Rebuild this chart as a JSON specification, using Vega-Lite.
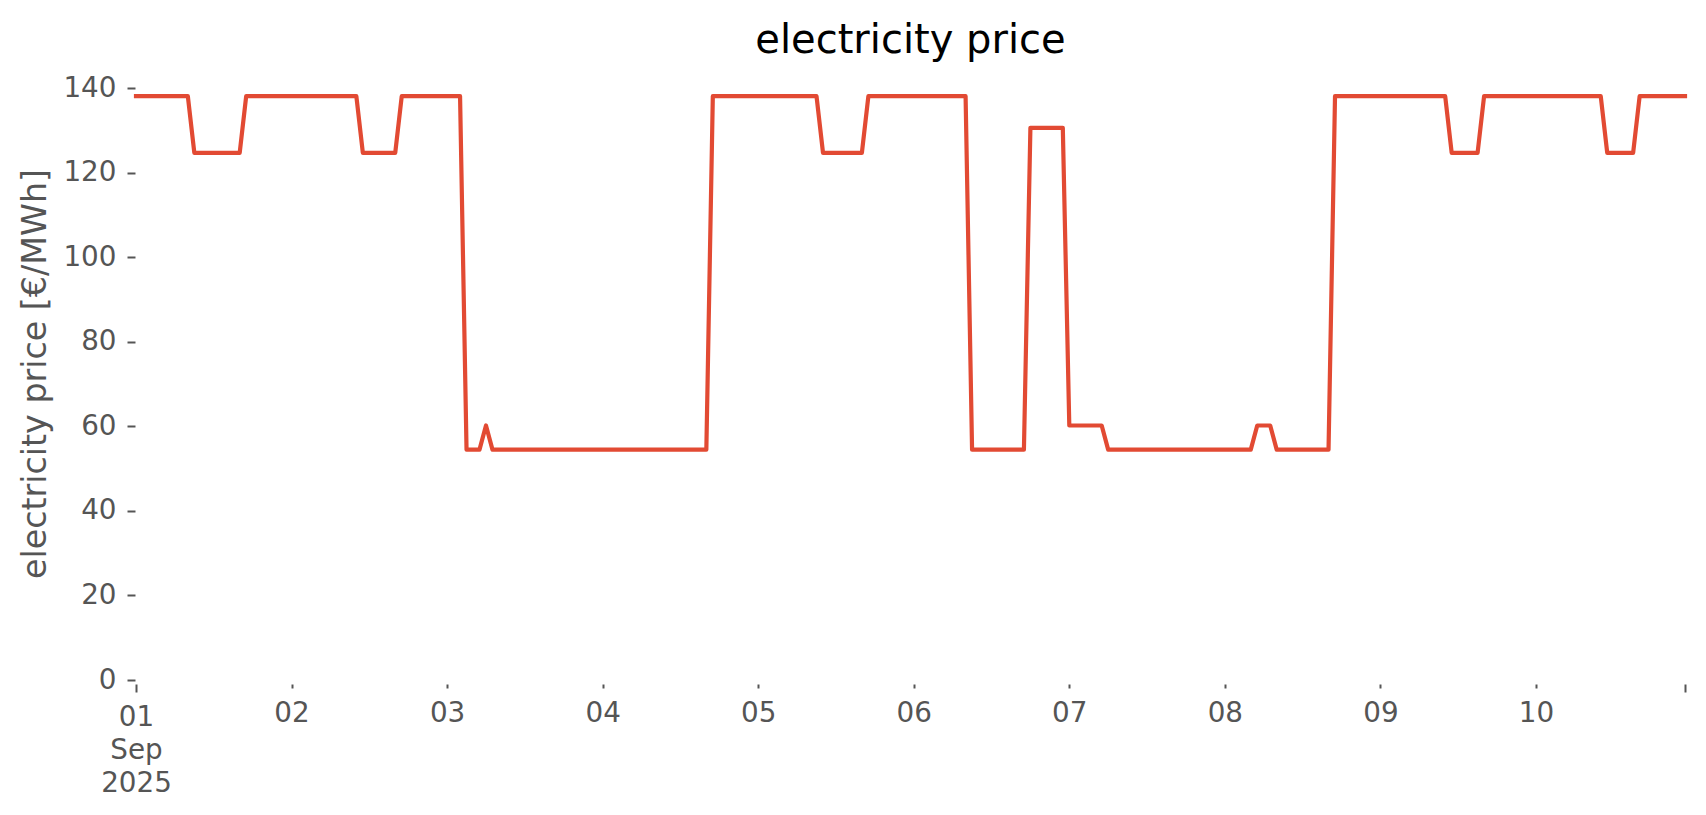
{
  "$schema": "https://vega.github.io/schema/vega-lite/v6.json",
  "width": 1549,
  "height": 613,
  "autosize": {"type": "none"},
  "padding": {"left": 136, "top": 67, "right": 21, "bottom": 135},
  "background": "white",
  "title": {"text": "electricity price", "fontSize": 40, "font": "DejaVu Sans", "fontWeight": "normal", "color": "black", "baseline": "alphabetic", "offset": 16, "dy": 42, "anchor": "middle", "frame": "group"},
  "data": {"values": [
    {"t":"2025-09-01T00:00Z","p":138.1},{"t":"2025-09-01T01:00Z","p":138.1},{"t":"2025-09-01T02:00Z","p":138.1},{"t":"2025-09-01T03:00Z","p":138.1},{"t":"2025-09-01T04:00Z","p":138.1},{"t":"2025-09-01T05:00Z","p":138.1},{"t":"2025-09-01T06:00Z","p":138.1},{"t":"2025-09-01T07:00Z","p":138.1},{"t":"2025-09-01T08:00Z","p":138.1},{"t":"2025-09-01T09:00Z","p":124.7},{"t":"2025-09-01T10:00Z","p":124.7},{"t":"2025-09-01T11:00Z","p":124.7},{"t":"2025-09-01T12:00Z","p":124.7},{"t":"2025-09-01T13:00Z","p":124.7},{"t":"2025-09-01T14:00Z","p":124.7},{"t":"2025-09-01T15:00Z","p":124.7},{"t":"2025-09-01T16:00Z","p":124.7},{"t":"2025-09-01T17:00Z","p":138.1},{"t":"2025-09-01T18:00Z","p":138.1},{"t":"2025-09-01T19:00Z","p":138.1},{"t":"2025-09-01T20:00Z","p":138.1},{"t":"2025-09-01T21:00Z","p":138.1},{"t":"2025-09-01T22:00Z","p":138.1},{"t":"2025-09-01T23:00Z","p":138.1},
    {"t":"2025-09-02T00:00Z","p":138.1},{"t":"2025-09-02T01:00Z","p":138.1},{"t":"2025-09-02T02:00Z","p":138.1},{"t":"2025-09-02T03:00Z","p":138.1},{"t":"2025-09-02T04:00Z","p":138.1},{"t":"2025-09-02T05:00Z","p":138.1},{"t":"2025-09-02T06:00Z","p":138.1},{"t":"2025-09-02T07:00Z","p":138.1},{"t":"2025-09-02T08:00Z","p":138.1},{"t":"2025-09-02T09:00Z","p":138.1},{"t":"2025-09-02T10:00Z","p":138.1},{"t":"2025-09-02T11:00Z","p":124.7},{"t":"2025-09-02T12:00Z","p":124.7},{"t":"2025-09-02T13:00Z","p":124.7},{"t":"2025-09-02T14:00Z","p":124.7},{"t":"2025-09-02T15:00Z","p":124.7},{"t":"2025-09-02T16:00Z","p":124.7},{"t":"2025-09-02T17:00Z","p":138.1},{"t":"2025-09-02T18:00Z","p":138.1},{"t":"2025-09-02T19:00Z","p":138.1},{"t":"2025-09-02T20:00Z","p":138.1},{"t":"2025-09-02T21:00Z","p":138.1},{"t":"2025-09-02T22:00Z","p":138.1},{"t":"2025-09-02T23:00Z","p":138.1},
    {"t":"2025-09-03T00:00Z","p":138.1},{"t":"2025-09-03T01:00Z","p":138.1},{"t":"2025-09-03T02:00Z","p":138.1},{"t":"2025-09-03T03:00Z","p":54.5},{"t":"2025-09-03T04:00Z","p":54.5},{"t":"2025-09-03T05:00Z","p":54.5},{"t":"2025-09-03T06:00Z","p":60.2},{"t":"2025-09-03T07:00Z","p":54.5},{"t":"2025-09-03T08:00Z","p":54.5},{"t":"2025-09-03T09:00Z","p":54.5},{"t":"2025-09-03T10:00Z","p":54.5},{"t":"2025-09-03T11:00Z","p":54.5},{"t":"2025-09-03T12:00Z","p":54.5},{"t":"2025-09-03T13:00Z","p":54.5},{"t":"2025-09-03T14:00Z","p":54.5},{"t":"2025-09-03T15:00Z","p":54.5},{"t":"2025-09-03T16:00Z","p":54.5},{"t":"2025-09-03T17:00Z","p":54.5},{"t":"2025-09-03T18:00Z","p":54.5},{"t":"2025-09-03T19:00Z","p":54.5},{"t":"2025-09-03T20:00Z","p":54.5},{"t":"2025-09-03T21:00Z","p":54.5},{"t":"2025-09-03T22:00Z","p":54.5},{"t":"2025-09-03T23:00Z","p":54.5},
    {"t":"2025-09-04T00:00Z","p":54.5},{"t":"2025-09-04T01:00Z","p":54.5},{"t":"2025-09-04T02:00Z","p":54.5},{"t":"2025-09-04T03:00Z","p":54.5},{"t":"2025-09-04T04:00Z","p":54.5},{"t":"2025-09-04T05:00Z","p":54.5},{"t":"2025-09-04T06:00Z","p":54.5},{"t":"2025-09-04T07:00Z","p":54.5},{"t":"2025-09-04T08:00Z","p":54.5},{"t":"2025-09-04T09:00Z","p":54.5},{"t":"2025-09-04T10:00Z","p":54.5},{"t":"2025-09-04T11:00Z","p":54.5},{"t":"2025-09-04T12:00Z","p":54.5},{"t":"2025-09-04T13:00Z","p":54.5},{"t":"2025-09-04T14:00Z","p":54.5},{"t":"2025-09-04T15:00Z","p":54.5},{"t":"2025-09-04T16:00Z","p":54.5},{"t":"2025-09-04T17:00Z","p":138.1},{"t":"2025-09-04T18:00Z","p":138.1},{"t":"2025-09-04T19:00Z","p":138.1},{"t":"2025-09-04T20:00Z","p":138.1},{"t":"2025-09-04T21:00Z","p":138.1},{"t":"2025-09-04T22:00Z","p":138.1},{"t":"2025-09-04T23:00Z","p":138.1},
    {"t":"2025-09-05T00:00Z","p":138.1},{"t":"2025-09-05T01:00Z","p":138.1},{"t":"2025-09-05T02:00Z","p":138.1},{"t":"2025-09-05T03:00Z","p":138.1},{"t":"2025-09-05T04:00Z","p":138.1},{"t":"2025-09-05T05:00Z","p":138.1},{"t":"2025-09-05T06:00Z","p":138.1},{"t":"2025-09-05T07:00Z","p":138.1},{"t":"2025-09-05T08:00Z","p":138.1},{"t":"2025-09-05T09:00Z","p":138.1},{"t":"2025-09-05T10:00Z","p":124.7},{"t":"2025-09-05T11:00Z","p":124.7},{"t":"2025-09-05T12:00Z","p":124.7},{"t":"2025-09-05T13:00Z","p":124.7},{"t":"2025-09-05T14:00Z","p":124.7},{"t":"2025-09-05T15:00Z","p":124.7},{"t":"2025-09-05T16:00Z","p":124.7},{"t":"2025-09-05T17:00Z","p":138.1},{"t":"2025-09-05T18:00Z","p":138.1},{"t":"2025-09-05T19:00Z","p":138.1},{"t":"2025-09-05T20:00Z","p":138.1},{"t":"2025-09-05T21:00Z","p":138.1},{"t":"2025-09-05T22:00Z","p":138.1},{"t":"2025-09-05T23:00Z","p":138.1},
    {"t":"2025-09-06T00:00Z","p":138.1},{"t":"2025-09-06T01:00Z","p":138.1},{"t":"2025-09-06T02:00Z","p":138.1},{"t":"2025-09-06T03:00Z","p":138.1},{"t":"2025-09-06T04:00Z","p":138.1},{"t":"2025-09-06T05:00Z","p":138.1},{"t":"2025-09-06T06:00Z","p":138.1},{"t":"2025-09-06T07:00Z","p":138.1},{"t":"2025-09-06T08:00Z","p":138.1},{"t":"2025-09-06T09:00Z","p":54.5},{"t":"2025-09-06T10:00Z","p":54.5},{"t":"2025-09-06T11:00Z","p":54.5},{"t":"2025-09-06T12:00Z","p":54.5},{"t":"2025-09-06T13:00Z","p":54.5},{"t":"2025-09-06T14:00Z","p":54.5},{"t":"2025-09-06T15:00Z","p":54.5},{"t":"2025-09-06T16:00Z","p":54.5},{"t":"2025-09-06T17:00Z","p":54.5},{"t":"2025-09-06T18:00Z","p":130.6},{"t":"2025-09-06T19:00Z","p":130.6},{"t":"2025-09-06T20:00Z","p":130.6},{"t":"2025-09-06T21:00Z","p":130.6},{"t":"2025-09-06T22:00Z","p":130.6},{"t":"2025-09-06T23:00Z","p":130.6},
    {"t":"2025-09-07T00:00Z","p":60.2},{"t":"2025-09-07T01:00Z","p":60.2},{"t":"2025-09-07T02:00Z","p":60.2},{"t":"2025-09-07T03:00Z","p":60.2},{"t":"2025-09-07T04:00Z","p":60.2},{"t":"2025-09-07T05:00Z","p":60.2},{"t":"2025-09-07T06:00Z","p":54.5},{"t":"2025-09-07T07:00Z","p":54.5},{"t":"2025-09-07T08:00Z","p":54.5},{"t":"2025-09-07T09:00Z","p":54.5},{"t":"2025-09-07T10:00Z","p":54.5},{"t":"2025-09-07T11:00Z","p":54.5},{"t":"2025-09-07T12:00Z","p":54.5},{"t":"2025-09-07T13:00Z","p":54.5},{"t":"2025-09-07T14:00Z","p":54.5},{"t":"2025-09-07T15:00Z","p":54.5},{"t":"2025-09-07T16:00Z","p":54.5},{"t":"2025-09-07T17:00Z","p":54.5},{"t":"2025-09-07T18:00Z","p":54.5},{"t":"2025-09-07T19:00Z","p":54.5},{"t":"2025-09-07T20:00Z","p":54.5},{"t":"2025-09-07T21:00Z","p":54.5},{"t":"2025-09-07T22:00Z","p":54.5},{"t":"2025-09-07T23:00Z","p":54.5},
    {"t":"2025-09-08T00:00Z","p":54.5},{"t":"2025-09-08T01:00Z","p":54.5},{"t":"2025-09-08T02:00Z","p":54.5},{"t":"2025-09-08T03:00Z","p":54.5},{"t":"2025-09-08T04:00Z","p":54.5},{"t":"2025-09-08T05:00Z","p":60.2},{"t":"2025-09-08T06:00Z","p":60.2},{"t":"2025-09-08T07:00Z","p":60.2},{"t":"2025-09-08T08:00Z","p":54.5},{"t":"2025-09-08T09:00Z","p":54.5},{"t":"2025-09-08T10:00Z","p":54.5},{"t":"2025-09-08T11:00Z","p":54.5},{"t":"2025-09-08T12:00Z","p":54.5},{"t":"2025-09-08T13:00Z","p":54.5},{"t":"2025-09-08T14:00Z","p":54.5},{"t":"2025-09-08T15:00Z","p":54.5},{"t":"2025-09-08T16:00Z","p":54.5},{"t":"2025-09-08T17:00Z","p":138.1},{"t":"2025-09-08T18:00Z","p":138.1},{"t":"2025-09-08T19:00Z","p":138.1},{"t":"2025-09-08T20:00Z","p":138.1},{"t":"2025-09-08T21:00Z","p":138.1},{"t":"2025-09-08T22:00Z","p":138.1},{"t":"2025-09-08T23:00Z","p":138.1},
    {"t":"2025-09-09T00:00Z","p":138.1},{"t":"2025-09-09T01:00Z","p":138.1},{"t":"2025-09-09T02:00Z","p":138.1},{"t":"2025-09-09T03:00Z","p":138.1},{"t":"2025-09-09T04:00Z","p":138.1},{"t":"2025-09-09T05:00Z","p":138.1},{"t":"2025-09-09T06:00Z","p":138.1},{"t":"2025-09-09T07:00Z","p":138.1},{"t":"2025-09-09T08:00Z","p":138.1},{"t":"2025-09-09T09:00Z","p":138.1},{"t":"2025-09-09T10:00Z","p":138.1},{"t":"2025-09-09T11:00Z","p":124.7},{"t":"2025-09-09T12:00Z","p":124.7},{"t":"2025-09-09T13:00Z","p":124.7},{"t":"2025-09-09T14:00Z","p":124.7},{"t":"2025-09-09T15:00Z","p":124.7},{"t":"2025-09-09T16:00Z","p":138.1},{"t":"2025-09-09T17:00Z","p":138.1},{"t":"2025-09-09T18:00Z","p":138.1},{"t":"2025-09-09T19:00Z","p":138.1},{"t":"2025-09-09T20:00Z","p":138.1},{"t":"2025-09-09T21:00Z","p":138.1},{"t":"2025-09-09T22:00Z","p":138.1},{"t":"2025-09-09T23:00Z","p":138.1},
    {"t":"2025-09-10T00:00Z","p":138.1},{"t":"2025-09-10T01:00Z","p":138.1},{"t":"2025-09-10T02:00Z","p":138.1},{"t":"2025-09-10T03:00Z","p":138.1},{"t":"2025-09-10T04:00Z","p":138.1},{"t":"2025-09-10T05:00Z","p":138.1},{"t":"2025-09-10T06:00Z","p":138.1},{"t":"2025-09-10T07:00Z","p":138.1},{"t":"2025-09-10T08:00Z","p":138.1},{"t":"2025-09-10T09:00Z","p":138.1},{"t":"2025-09-10T10:00Z","p":138.1},{"t":"2025-09-10T11:00Z","p":124.7},{"t":"2025-09-10T12:00Z","p":124.7},{"t":"2025-09-10T13:00Z","p":124.7},{"t":"2025-09-10T14:00Z","p":124.7},{"t":"2025-09-10T15:00Z","p":124.7},{"t":"2025-09-10T16:00Z","p":138.1},{"t":"2025-09-10T17:00Z","p":138.1},{"t":"2025-09-10T18:00Z","p":138.1},{"t":"2025-09-10T19:00Z","p":138.1},{"t":"2025-09-10T20:00Z","p":138.1},{"t":"2025-09-10T21:00Z","p":138.1},{"t":"2025-09-10T22:00Z","p":138.1},{"t":"2025-09-10T23:00Z","p":138.1}
  ]},
  "mark": {"type": "line", "color": "#E24A33", "strokeWidth": 4.2, "strokeJoin": "round", "strokeCap": "square", "clip": false},
  "encoding": {
    "x": {
      "field": "t", "type": "temporal",
      "scale": {"type": "utc", "domain": [1756684800000, 1757545200000], "nice": false},
      "axis": {
        "title": null, "domain": false, "grid": false, "offset": 4,
        "values": [1756684800000, 1756771200000, 1756857600000, 1756944000000, 1757030400000, 1757116800000, 1757203200000, 1757289600000, 1757376000000, 1757462400000, 1757545200000],
        "labelExpr": "time(datum.value) == 1756684800000 ? ['01','Sep','2025'] : (time(datum.value) == 1757545200000 ? '' : utcFormat(datum.value, '%d'))",
        "tickSize": {"condition": {"test": "time(datum.value) == 1756684800000 || time(datum.value) == 1757545200000", "value": 8}, "value": 4},
        "tickColor": "#555555", "tickWidth": 2,
        "labelFont": "DejaVu Sans", "labelFontSize": 27.8, "labelColor": "#555555",
        "labelPadding": 11, "labelLineHeight": 33.4, "labelOverlap": false, "labelFlush": false, "labelBound": false
      }
    },
    "y": {
      "field": "p", "type": "quantitative",
      "scale": {"domain": [0, 145], "nice": false, "zero": true},
      "axis": {
        "title": "electricity price [€/MWh]", "domain": false, "grid": false, "offset": 1,
        "values": [0, 20, 40, 60, 80, 100, 120, 140],
        "tickSize": 8, "tickColor": "#555555", "tickWidth": 2,
        "labelFont": "DejaVu Sans", "labelFontSize": 27.8, "labelColor": "#555555", "labelPadding": 11,
        "titleFont": "DejaVu Sans", "titleFontSize": 33.3, "titleFontWeight": "normal", "titleColor": "#555555", "titlePadding": 10,
        "labelOverlap": false, "labelFlush": false, "labelBound": false
      }
    }
  },
  "config": {"view": {"stroke": null}}
}
